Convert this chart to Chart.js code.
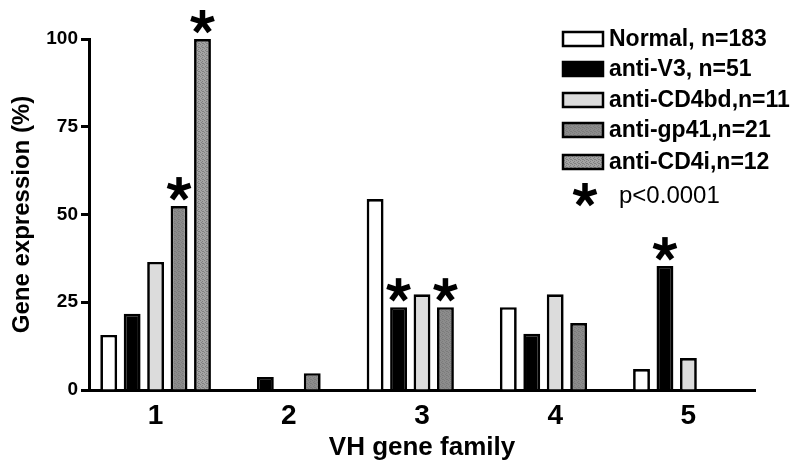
<!DOCTYPE html>
<html lang="en">
<head>
	<meta charset="UTF-8">
	<title>VH gene family</title>
	<script src="https://cdn.jsdelivr.net/npm/chart.js@4.4.0/dist/chart.umd.min.js"></script>
	<style>
		body { margin: 0; background: #fff; }
		#wrap { width: 800px; height: 470px; }
	</style>
</head>
<body>
	<div id="wrap"><canvas id="barChart"></canvas></div>

	<script>
	// data
	var families = ["1", "2", "3", "4", "5"];
	var normal = [15.7, 0, 54.4, 23.6, 6.0];
	var antiV3 = [21.7, 3.7, 23.6, 16.0, 35.3];
	var antiCD4bd = [36.5, 0, 27.3, 27.3, 9.1];
	var antiGp41 = [52.4, 4.8, 23.6, 19.1, 0];
	var antiCD4i = [100, 0, 0, 0, 0];
	var yTicks = [0, 25, 50, 75, 100];
	var seriesNames = ["Normal, n=183", "anti-V3, n=51", "anti-CD4bd,n=11", "anti-gp41,n=21", "anti-CD4i,n=12"];
	// [dataset index, category index] of bars marked p<0.0001
	var starred = [[3, 0], [4, 0], [1, 2], [3, 2], [1, 4]];

	// stippled grey fill
	function stipple(base, dot) {
		var c = document.createElement("canvas");
		c.width = 4; c.height = 4;
		var g = c.getContext("2d");
		g.fillStyle = base;
		g.fillRect(0, 0, 4, 4);
		g.fillStyle = dot;
		g.fillRect(0, 0, 1, 1);
		g.fillRect(2, 1, 1, 1);
		g.fillRect(1, 2, 1, 1);
		g.fillRect(3, 3, 1, 1);
		g.fillRect(2, 3, 1, 1);
		return g.createPattern(c, "repeat");
	}
	var gp41Fill = stipple("#8c8c8c", "#7c7c7c");
	var cd4iFill = stipple("#a4a4a4", "#808080");
	var fills = ["#ffffff", "#000000", "#dcdcdc", gp41Fill, cd4iFill];

	function drawStar(ctx, x, y) {
		ctx.save();
		ctx.strokeStyle = "#000";
		ctx.lineWidth = 5.5;
		ctx.lineCap = "butt";
		for (var k = 0; k < 5; k++) {
			var a = -Math.PI / 2 + k * 2 * Math.PI / 5;
			ctx.beginPath();
			ctx.moveTo(x, y);
			ctx.lineTo(x + 12 * Math.cos(a), y + 12 * Math.sin(a));
			ctx.stroke();
		}
		ctx.restore();
	}

	// asterisks above bars + the legend box on the right
	var extras = {
		id: "extras",
		afterDatasetsDraw: function(chart) {
			var ctx = chart.ctx;
			starred.forEach(function(s) {
				var bar = chart.getDatasetMeta(s[0]).data[s[1]];
				drawStar(ctx, bar.x, bar.y - 17);
			});

			var rows = [39, 69, 100, 130, 162];
			ctx.save();
			ctx.font = "bold 23px 'Liberation Sans', Arial, sans-serif";
			ctx.textBaseline = "middle";
			ctx.textAlign = "left";
			for (var i = 0; i < seriesNames.length; i++) {
				ctx.fillStyle = fills[i];
				ctx.fillRect(563, rows[i] - 7, 40, 14);
				ctx.lineWidth = 2.5;
				ctx.strokeStyle = "#000";
				ctx.strokeRect(563, rows[i] - 7, 40, 14);
				ctx.fillStyle = "#000";
				ctx.fillText(seriesNames[i], 609, rows[i] + 1);
			}
			drawStar(ctx, 585, 195);
			ctx.font = "24px 'Liberation Sans', Arial, sans-serif";
			ctx.fillText("p<0.0001", 619, 196);
			ctx.restore();
		}
	};

	var datasets = [normal, antiV3, antiCD4bd, antiGp41, antiCD4i].map(function(vals, i) {
		return {
			label: seriesNames[i],
			data: vals,
			backgroundColor: fills[i],
			borderColor: "#000",
			borderWidth: 2.7,
			barPercentage: 0.72,
			categoryPercentage: 0.88
		};
	});

	var ctx = document.getElementById("barChart").getContext("2d");
	var myChart = new Chart(ctx, {
		type: "bar",
		data: { labels: families, datasets: datasets },
		plugins: [extras],
		options: {
			responsive: true,
			maintainAspectRatio: false,
			animation: false,
			layout: { padding: { top: 39, right: 45, left: 0, bottom: 0 } },
			plugins: { legend: { display: false }, tooltip: { enabled: false } },
			scales: {
				x: {
					grid: { display: false },
					border: { display: true, color: "#000", width: 3 },
					ticks: {
						color: "#000",
						padding: 1,
						font: { family: "'Liberation Sans', Arial, sans-serif", size: 28, weight: "bold" }
					},
					title: {
						display: true,
						text: "VH gene family",
						color: "#000",
						padding: { top: 0, bottom: 7 },
						font: { family: "'Liberation Sans', Arial, sans-serif", size: 26, weight: "bold" }
					},
					afterFit: function(scale) { scale.height = 80; }
				},
				y: {
					min: 0,
					max: 100,
					afterBuildTicks: function(scale) {
						scale.ticks = yTicks.map(function(v) { return { value: v }; });
					},
					grid: { drawOnChartArea: false, drawTicks: true, tickLength: 8, tickWidth: 3, tickColor: "#000" },
					border: { display: true, color: "#000", width: 3 },
					ticks: {
						color: "#000",
						padding: 3,
						font: { family: "'Liberation Sans', Arial, sans-serif", size: 19, weight: "bold" }
					},
					title: {
						display: true,
						text: "Gene expression (%)",
						color: "#000",
						padding: { top: 8, bottom: 0 },
						font: { family: "'Liberation Sans', Arial, sans-serif", size: 24, weight: "bold" }
					},
					afterFit: function(scale) { scale.width = 89; }
				}
			}
		}
	});
	</script>
</body>
</html>
